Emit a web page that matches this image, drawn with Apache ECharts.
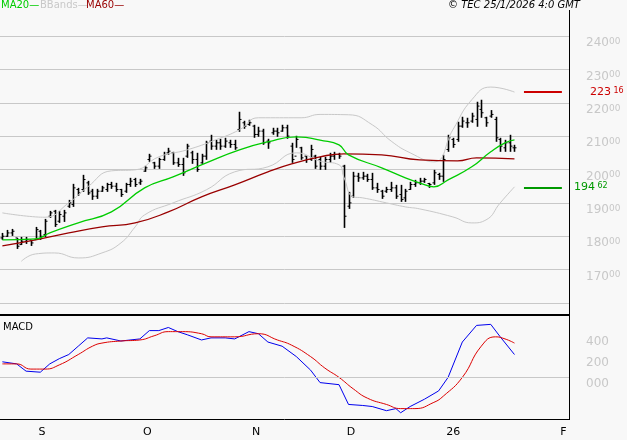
<!DOCTYPE html>
<html><head><meta charset="utf-8">
<script src="https://cdn.jsdelivr.net/npm/echarts@6/dist/echarts.min.js"></script>
<style>html,body{margin:0;padding:0;background:#f8f8f8}#c{width:627px;height:440px}</style>
</head><body><div id="c"></div>
<script>
var NCAT = 120;
var tickLabels = {7:'S',29:'O',52:'N',72:'D',93:'26',117:'F'};
var highs = [18100,18190,18220,17950,17980,17980,17890,18280,18190,18520,18760,18790,18760,18790,19090,19570,19450,19840,19660,19420,19420,19510,19600,19630,19600,19420,19600,19750,19750,19720,20110,20470,20230,20350,20530,20650,20530,20350,20350,20770,20560,20500,20470,20860,21040,20890,20920,20950,20890,20890,21730,21460,21490,21340,21280,21220,20920,21250,21250,21340,21340,20800,21010,20680,20410,20740,20440,20380,20380,20500,20530,20500,20140,19330,19930,19900,19930,19870,19900,19600,19390,19480,19630,19540,19540,19420,19630,19690,19750,19750,19600,19990,19900,20440,21040,20950,21430,21580,21550,21700,22030,22090,21580,21780,21580,20950,20890,21040,20740];
var lows = [17890,17980,18010,17620,17740,17770,17710,17890,17890,17980,18550,18280,18400,18430,18850,18880,19210,19330,19240,19090,19120,19330,19330,19420,19330,19180,19300,19480,19480,19540,19930,20230,20020,20020,20260,20440,20140,20080,19810,20350,20170,19930,20170,20290,20590,20590,20590,20650,20650,20590,21130,21220,21310,20950,20980,20740,20620,21040,20980,21130,20920,20200,20650,20290,20200,20260,20020,19990,19990,20200,20290,20320,18250,18820,19150,19630,19690,19630,19390,19300,19120,19300,19330,19120,19030,19030,19390,19480,19540,19600,19450,19540,19690,19630,20530,20650,20830,21250,21250,21400,21280,21550,21280,21550,20830,20530,20530,20530,20530];
var closes = [18000,18100,18150,17700,17850,17900,17800,18200,18000,18450,18700,18350,18650,18700,19000,19450,19300,19700,19300,19200,19350,19450,19550,19500,19400,19250,19550,19650,19550,19650,20050,20400,20100,20300,20450,20550,20200,20150,19900,20700,20300,20000,20400,20800,20700,20800,20700,20850,20750,20650,21500,21300,21400,21050,21150,20800,20800,21150,21100,21250,21000,20300,20900,20350,20300,20600,20100,20100,20300,20400,20450,20400,18600,19000,19800,19750,19800,19700,19450,19400,19200,19400,19450,19200,19100,19350,19550,19600,19650,19700,19550,19900,19800,20300,20950,20750,21300,21450,21400,21600,21900,21700,21400,21650,20950,20700,20800,20700,20650];
var opens = [17950,18000,18100,17950,17750,17850,17890,17900,18150,18050,18600,18750,18450,18600,18900,18950,19400,19400,19600,19350,19200,19350,19400,19550,19500,19400,19350,19550,19700,19600,19950,20300,20200,20100,20300,20500,20500,20200,20150,20400,20500,20300,20200,20400,20850,20700,20800,20700,20800,20750,21200,21400,21350,21300,21050,21150,20850,21100,21150,21150,21250,20700,20400,20650,20400,20300,20400,20300,20100,20300,20400,20450,20100,18900,19200,19800,19750,19800,19700,19450,19350,19350,19400,19450,19250,19150,19400,19550,19600,19650,19580,19600,19850,19800,20600,20900,20900,21300,21400,21450,21500,21800,21550,21600,21500,20900,20650,20800,20650];
var ma20 = [[0,17890],[6.5,17920],[10,18100],[16.4,18400],[22.7,18730],[29.7,19450],[36,19780],[43,20200],[50,20590],[55.8,20830],[62,20980],[64,20960],[67,20880],[70.5,20740],[73.3,20440],[79.6,20050],[84.5,19750],[88,19600],[90.8,19480],[94.4,19690],[98.6,20080],[102.8,20530],[106.4,20800],[108,20890]];
var ma60 = [[0,17710],[6.5,17890],[13.5,18100],[20.6,18280],[27.6,18400],[34.7,18730],[41.7,19180],[48.7,19540],[55.8,19930],[61.3,20170],[67,20380],[71.8,20470],[79.6,20440],[88,20290],[95.5,20260],[99.7,20350],[108,20320]];
var bbUpper = [[0,18700],[6.5,18580],[9,18570],[13.5,19000],[17.8,19480],[22.7,19960],[27.6,19990],[32.5,20380],[38.9,20590],[44.5,20890],[50,21190],[54.4,21550],[62.8,21550],[67,21650],[72.7,21640],[77.5,21340],[81.7,20850],[86,20500],[90.8,20230],[95,21190],[99.3,22090],[103,22470],[108,22320]];
var bbLower = [[4,17250],[6.5,17470],[10.8,17500],[16.4,17350],[20.6,17500],[24.8,17800],[27.6,18280],[30.4,18640],[36,19000],[43,19390],[48.7,19930],[55.8,20080],[62,20500],[67,20250],[70.5,20140],[71.8,19780],[73.6,19180],[76,19150],[81,19000],[84.5,18880],[88,18820],[95,18580],[99,18400],[102,18490],[105,19000],[108,19480]];
var macdLine = [[0,150],[2.9,130],[5.4,60],[7.9,50],[10,130],[12.2,180],[14.3,220],[15.5,300],[17.6,380],[20.6,370],[22.3,380],[24.8,350],[29,370],[31.1,450],[33.2,450],[35,480],[37,440],[39,410],[41.7,360],[43.8,380],[46.7,380],[49.3,370],[52.2,440],[53.9,420],[56,340],[59.4,300],[61.9,200],[64.5,70],[67,-50],[71.2,-70],[73.3,-260],[76.3,-270],[78.4,-280],[80.5,-320],[82.6,-300],[84.3,-340],[86.4,-280],[88.9,-210],[92.3,-130],[94,0],[97.4,340],[100.3,500],[102.8,510],[105,390],[108,220]];
var signalLine = [[0,130],[2.9,130],[6.2,80],[8.8,80],[12.2,120],[15.5,220],[18.9,300],[21.4,330],[24.8,350],[29.4,360],[31.6,400],[35,440],[38.3,440],[41.7,420],[44.2,390],[49.3,390],[53.5,420],[57.7,360],[61,310],[64.5,200],[67.8,90],[71.2,0],[73.7,-110],[77.1,-200],[80.5,-260],[83.8,-300],[87.2,-300],[90.6,-240],[93.1,-180],[96.5,0],[100.7,300],[104,390],[105.8,370],[108,330]];
var resistance = 22316, support = 19462;
var priceTicks = {17000:'170',18000:'180',19000:'190',20000:'200',21000:'210',22000:'220',23000:'230',24000:'240'};
var macdTicks = {0:'000',200:'200',400:'400'};

var cats = []; for (var i = 0; i < NCAT; i++) cats.push(String(i));
var ohlc = highs.map(function(h, i){ return [i, opens[i], closes[i], lows[i], h]; });
var chart = echarts.init(document.getElementById('c'));
var F = 'DejaVu Sans';
function lvlLabel(col, dist, txt){
  var p = txt.split(' ');
  return {show: true, position: 'end', distance: dist, formatter: '{a|' + p[0] + '}{b| ' + p[1] + '}',
    rich: {a: {color: col, fontSize: 11, fontFamily: F}, b: {color: col, fontSize: 8, verticalAlign: 'top', fontFamily: F}}};
}
chart.setOption({
  backgroundColor: '#f8f8f8',
  animation: false,
  textStyle: {fontFamily: F},
  grid: [{left: 0, width: 569, top: 36, height: 267}, {left: 0, width: 569, top: 315, height: 104}],
  xAxis: [
    {type: 'category', data: cats, gridIndex: 0, show: false},
    {type: 'category', data: cats, gridIndex: 1, axisLine: {show: false},
     axisTick: {alignWithLabel: true, length: 13, lineStyle: {color: '#000'}, interval: function(i){ return tickLabels[i] !== undefined; }},
     axisLabel: {interval: function(i){ return tickLabels[i] !== undefined; }, formatter: function(v, i){ return tickLabels[i] || ''; }, align: 'left', margin: 8, color: '#000', fontSize: 11, padding: [0,0,0,3]}}
  ],
  yAxis: [
    {type: 'value', gridIndex: 0, position: 'right', min: 16000, max: 24000, interval: 1000,
     axisLine: {show: false}, axisTick: {show: false},
     splitLine: {lineStyle: {color: '#c8c8c8'}},
     axisLabel: {margin: 17, verticalAlign: 'top', padding: [1,0,0,0], formatter: function(v){ return priceTicks[v] ? '{a|' + priceTicks[v] + '}{b|00}' : ''; },
       rich: {a: {color: '#c8c8c8', fontSize: 12, fontFamily: F}, b: {color: '#c8c8c8', fontSize: 9, verticalAlign: 'top', fontFamily: F}}}},
    {type: 'value', gridIndex: 1, position: 'right', min: -400, max: 600, interval: 200,
     axisLine: {show: false}, axisTick: {show: false}, splitLine: {show: false},
     axisLabel: {margin: 17, verticalAlign: 'top', color: '#c8c8c8', fontSize: 12, formatter: function(v){ return macdTicks[v] || ''; }}}
  ],
  series: [
    {type: 'line', data: bbUpper, smooth: true, symbol: 'none', lineStyle: {color: '#c8c8c8', width: 1}, xAxisIndex: 0, yAxisIndex: 0},
    {type: 'line', data: bbLower, smooth: true, symbol: 'none', lineStyle: {color: '#c8c8c8', width: 1}, xAxisIndex: 0, yAxisIndex: 0},
    {type: 'line', data: ma60, smooth: true, symbol: 'none', lineStyle: {color: '#990000', width: 1.3}, xAxisIndex: 0, yAxisIndex: 0,
     markLine: {symbol: 'none', silent: true, data: [
       [{coord: [109.5, resistance], lineStyle: {color: '#cc0000', width: 2, type: 'solid'}, label: lvlLabel('#cc0000', 28, '223 16')}, {coord: [118, resistance]}],
       [{coord: [109.5, support], lineStyle: {color: '#009900', width: 2, type: 'solid'}, label: lvlLabel('#009900', 12, '194 62')}, {coord: [118, support]}]
     ]}},
    {type: 'line', data: ma20, smooth: true, symbol: 'none', lineStyle: {color: '#00cc00', width: 1.3}, xAxisIndex: 0, yAxisIndex: 0},
    {type: 'custom', xAxisIndex: 0, yAxisIndex: 0, data: ohlc,
     renderItem: function(params, api){
       var x = api.value(0);
       var o = api.coord([x, api.value(1)]), c = api.coord([x, api.value(2)]);
       var l = api.coord([x, api.value(3)]), h = api.coord([x, api.value(4)]);
       var px = Math.round(h[0]) + 0.5;
       return {type: 'group', children: [
         {type: 'line', shape: {x1: px, y1: h[1], x2: px, y2: l[1]}, style: {stroke: '#000', lineWidth: 1.6}},
         {type: 'line', shape: {x1: px - 2, y1: o[1], x2: px, y2: o[1]}, style: {stroke: '#000', lineWidth: 1}},
         {type: 'line', shape: {x1: px, y1: c[1], x2: px + 2, y2: c[1]}, style: {stroke: '#000', lineWidth: 1}}
       ]};
     }},
    {type: 'line', data: macdLine, symbol: 'none', lineStyle: {color: '#0000ee', width: 1}, xAxisIndex: 1, yAxisIndex: 1,
     markLine: {symbol: 'none', silent: true, label: {show: false}, lineStyle: {color: '#c8c8c8', type: 'solid', width: 1}, data: [{yAxis: 0}]}},
    {type: 'line', data: signalLine, smooth: true, symbol: 'none', lineStyle: {color: '#dd0000', width: 1}, xAxisIndex: 1, yAxisIndex: 1}
  ],
  graphic: [
    {type: 'line', shape: {x1: 569.5, y1: 10, x2: 569.5, y2: 420}, style: {stroke: '#000', lineWidth: 1}},
    {type: 'line', shape: {x1: 0, y1: 315, x2: 569, y2: 315}, style: {stroke: '#000', lineWidth: 2}},
    {type: 'line', shape: {x1: 0, y1: 419.5, x2: 569, y2: 419.5}, style: {stroke: '#000', lineWidth: 1}},
    {type: 'text', left: 1, top: 0, style: {text: 'MA20—', fill: '#00cc00', font: '10px DejaVu Sans'}},
    {type: 'text', left: 40, top: 0, style: {text: 'BBands—', fill: '#c8c8c8', font: '10px DejaVu Sans'}},
    {type: 'text', left: 86, top: 0, style: {text: 'MA60—', fill: '#990000', font: '10px DejaVu Sans'}},
    {type: 'text', left: 448, top: 0, style: {text: '© TEC 25/1/2026 4:0 GMT', fill: '#000', font: 'italic 10px DejaVu Sans'}},
    {type: 'text', left: 3, top: 322, style: {text: 'MACD', fill: '#000', font: '10px DejaVu Sans'}}
  ]
});
</script></body></html>
